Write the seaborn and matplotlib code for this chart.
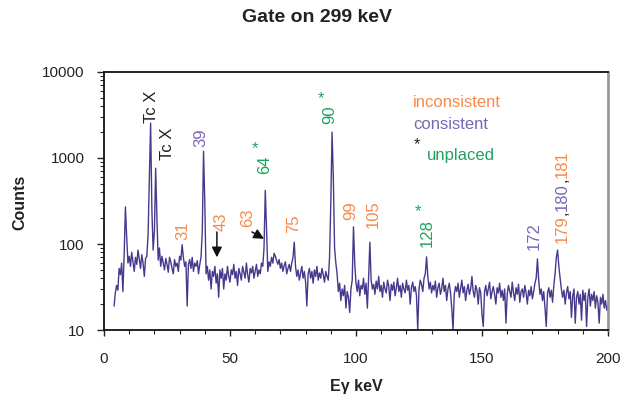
import numpy as np
import pandas as pd
import matplotlib
matplotlib.use("Agg")
import matplotlib.pyplot as plt
import seaborn as sns
from matplotlib.ticker import FixedLocator, NullFormatter, LogLocator

# ---------------- data ----------------
start_energy = 4.0      # keV, first channel
channel_width = 0.5     # keV per channel
counts = [
    19, 27, 33, 29, 52, 44, 60, 28, 75, 270,        # 4.0 - 8.5
    120, 60, 72, 55, 80, 62, 48, 70, 58, 85,        # 9.0 - 13.5
    66, 52, 75, 60, 42, 68, 72, 130, 600, 2550,     # 14.0 - 18.5
    250, 85, 140, 760, 200, 65, 90, 55, 72, 60,     # 19.0 - 23.5
    50, 68, 58, 47, 70, 62, 52, 45, 66, 55,         # 24.0 - 28.5
    60, 48, 72, 65, 98, 70, 55, 62, 19, 58,         # 29.0 - 33.5
    66, 52, 70, 48, 60, 55, 64, 45, 58, 70,         # 34.0 - 38.5
    140, 1200, 300, 45, 55, 38, 50, 30, 48, 42,     # 39.0 - 43.5
    55, 35, 45, 24, 50, 40, 52, 30, 45, 38,         # 44.0 - 48.5
    55, 42, 36, 50, 44, 58, 40, 48, 33, 52,         # 49.0 - 53.5
    45, 38, 55, 47, 40, 60, 44, 36, 52, 46,         # 54.0 - 58.5
    55, 40, 48, 58, 42, 50, 45, 60, 55, 90,         # 59.0 - 63.5
    420, 150, 48, 62, 55, 70, 60, 78, 72, 64,       # 64.0 - 68.5
    58, 66, 52, 60, 48, 56, 62, 45, 52, 58,         # 69.0 - 73.5
    48, 60, 70, 105, 55, 42, 50, 38, 46, 55,        # 74.0 - 78.5
    40, 48, 36, 19, 45, 52, 40, 48, 35, 50,         # 79.0 - 83.5
    42, 55, 38, 46, 40, 52, 44, 36, 48, 42,         # 84.0 - 88.5
    38, 70, 300, 2000, 600, 90, 60, 45, 28, 35,     # 89.0 - 93.5
    22, 30, 25, 33, 18, 28, 24, 16, 30, 38,         # 94.0 - 98.5
    158, 60, 35, 28, 38, 25, 33, 30, 40, 26,        # 99.0 - 103.5
    35, 18, 40, 105, 38, 30, 34, 26, 37, 30,        # 104.0 - 108.5
    42, 28, 33, 24, 36, 30, 27, 38, 32, 22,         # 109.0 - 113.5
    34, 29, 36, 25, 31, 40, 28, 33, 24, 35,         # 114.0 - 118.5
    30, 27, 38, 29, 33, 20, 31, 36, 28, 32,         # 119.0 - 123.5
    25, 10, 30, 38, 34, 28, 40, 45, 71, 42,         # 124.0 - 128.5
    30, 36, 27, 33, 29, 37, 24, 31, 35, 26,         # 129.0 - 133.5
    30, 40, 28, 33, 22, 30, 35, 27, 18, 10,         # 134.0 - 138.5
    26, 32, 28, 35, 24, 30, 38, 27, 32, 22,         # 139.0 - 143.5
    29, 34, 26, 30, 42, 28, 24, 33, 29, 20,         # 144.0 - 148.5
    31, 27, 15, 11, 28, 33, 25, 30, 36, 23,         # 149.0 - 153.5
    28, 32, 26, 20, 31, 27, 35, 24, 29, 22,         # 154.0 - 158.5
    30, 12, 26, 33, 28, 24, 36, 27, 22, 31,         # 159.0 - 163.5
    26, 34, 21, 28, 30, 24, 33, 27, 20, 29,         # 164.0 - 168.5
    25, 32, 23, 28, 35, 40, 67, 38, 26, 30,         # 169.0 - 173.5
    22, 28, 18, 11, 27, 31, 24, 29, 21, 33,         # 174.0 - 178.5
    45, 70, 85, 55, 40, 30, 24, 29, 20, 27,         # 179.0 - 183.5
    32, 23, 28, 14, 25, 30, 12, 24, 28, 20,         # 184.0 - 188.5
    26, 13, 29, 22, 27, 11, 24, 30, 19, 26,         # 189.0 - 193.5
    22, 28, 18, 25, 21, 12, 24, 20, 26, 18,         # 194.0 - 198.5
    22, 17, 19,                                     # 199.0 - 200.0
]
energies = start_energy + channel_width * np.arange(len(counts))

x_ticks = [0, 50, 100, 150, 200]
y_ticks = [10, 100, 1000, 10000]
y_tick_labels = ["10", "100", "1000", "10000"]

title = "Gate on 299 keV"
x_label = "E\u03b3 keV"
y_label = "Counts"

# ---------------- style ----------------
sns.set_style("ticks")
plt.rcParams["font.family"] = ["Liberation Sans", "DejaVu Sans"]

ORANGE = "#f68a4c"
PURPLE = "#7a66b6"
GREEN = "#1fa35f"
LINE = "#463a8c"

fig = plt.figure(figsize=(6.35, 3.97), dpi=100)
ax = fig.add_axes([104 / 635, 67 / 397, 504 / 635, 258 / 397])

df = pd.DataFrame({"E": energies, "Counts": counts})
sns.lineplot(data=df, x="E", y="Counts", ax=ax, color=LINE, lw=1.0,
             estimator=None)

ax.set_yscale("log")
ax.set_xlim(0, 200)
ax.set_ylim(10, 10000)
ax.set_xlabel("")
ax.set_ylabel("")

ax.xaxis.set_major_locator(FixedLocator(x_ticks))
ax.xaxis.set_minor_locator(FixedLocator(list(range(0, 201, 10))))
ax.yaxis.set_major_locator(FixedLocator(y_ticks))
ax.set_yticklabels(y_tick_labels)
ax.yaxis.set_minor_locator(LogLocator(base=10, subs=np.arange(2, 10)))
ax.yaxis.set_minor_formatter(NullFormatter())

ax.tick_params(axis="x", which="major", length=4, width=1, direction="out",
               pad=12, labelsize=11, colors="#222222")
ax.tick_params(axis="x", which="minor", length=3, width=0.8, direction="out")
ax.tick_params(axis="y", which="major", length=5, width=1, direction="out",
               pad=9, labelsize=11, colors="#222222")
ax.tick_params(axis="y", which="minor", length=3, width=0.8, direction="out")

for s in ["left", "bottom", "top"]:
    ax.spines[s].set_color("#111111")
    ax.spines[s].set_linewidth(1.3)
ax.spines["right"].set_color("#999999")
ax.spines["right"].set_linewidth(2)

fig.text(317 / 635, 1 - 18 / 397, title, ha="center", va="center",
         fontsize=14, fontweight="bold", color="#222222")
fig.text(356 / 635, 1 - 386 / 397, x_label, ha="center", va="center",
         fontsize=11.5, fontweight="bold", color="#222222")
fig.text(20 / 635, 1 - 202 / 397, y_label, ha="center", va="center",
         rotation=90, fontsize=11.5, fontweight="bold", color="#222222")

# ---------------- peak labels ----------------
FS = 12
rot_labels = [
    # text, x(keV), bottom(counts), colour
    ("Tc X", 18.8, 2550, "#222222"),
    ("Tc X", 25.0, 950, "#222222"),
    ("39", 38.5, 1340, PURPLE),
    ("64", 63.9, 650, GREEN),
    ("90", 89.7, 2480, GREEN),
    ("31", 31.2, 111, ORANGE),
    ("43", 46.4, 142, ORANGE),
    ("63", 57.1, 158, ORANGE),
    ("75", 75.4, 134, ORANGE),
    ("99", 98.0, 190, ORANGE),
    ("105", 106.7, 153, ORANGE),
    ("128", 128.2, 92, GREEN),
    ("172", 170.6, 85, PURPLE),
    ("179", 181.7, 103, ORANGE),
    ("180", 181.7, 245, PURPLE),
    ("181", 181.7, 590, ORANGE),
]
for txt, x, y, c in rot_labels:
    ax.text(x, y, txt, rotation=90, ha="center", va="bottom", fontsize=FS,
            color=c)

# commas between the stacked labels
for y in [228, 560]:
    ax.text(181.9, y, ",", rotation=90, ha="center", va="center",
            fontsize=FS, color="#222222")

# asterisks (unplaced)
for x, y in [(59.9, 1270), (86.1, 4850), (124.6, 235)]:
    ax.text(x, y, "*", ha="center", va="center", fontsize=FS, color=GREEN)

# arrows
arrow_kw = dict(arrowstyle="-|>", color="#111111", lw=1.1, mutation_scale=15,
                shrinkA=0, shrinkB=0)
ax.annotate("", xy=(44.8, 70), xytext=(44.8, 138), arrowprops=arrow_kw)
ax.annotate("", xy=(63.5, 115), xytext=(58.7, 138), arrowprops=arrow_kw)

# legend-like text
ax.text(122.6, 4365, "inconsistent", ha="left", va="center", fontsize=FS,
        color=ORANGE)
ax.text(122.6, 2485, "consistent", ha="left", va="center", fontsize=FS,
        color=PURPLE)
ax.text(124.2, 1416, "*", ha="center", va="center", fontsize=FS,
        color="#222222")
ax.text(128.2, 1083, "unplaced", ha="left", va="center", fontsize=FS,
        color=GREEN)

fig.savefig("out.png", dpi=100)
